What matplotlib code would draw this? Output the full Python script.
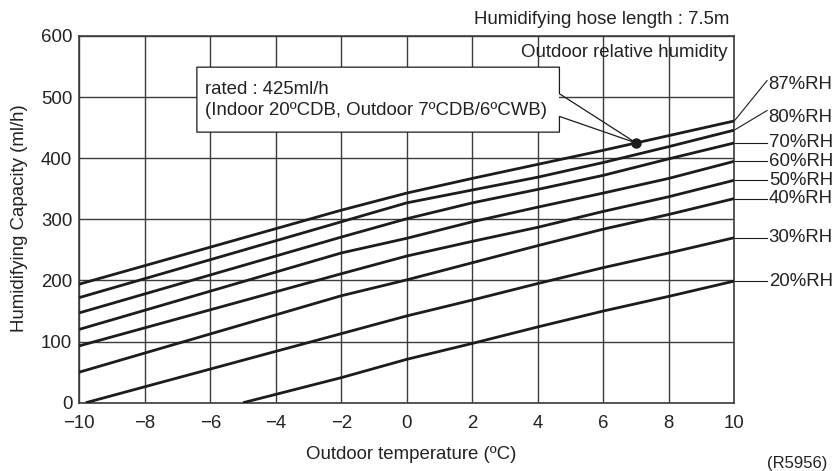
import matplotlib.pyplot as plt

plt.rcParams['font.family'] = ['Liberation Sans', 'DejaVu Sans']

# outdoor temperature (ºC) at the break points of each curve
temp = [-10, -2, 0, 2, 4, 6, 8, 10]
temp_30 = [-9.8, -2, 0, 2, 4, 6, 8, 10]
temp_20 = [-5, -2, 0, 2, 4, 6, 8, 10]

# humidifying capacity (ml/h) per outdoor relative humidity
cap_87 = [194, 315, 343, 367, 390, 413, 437, 461]
cap_80 = [172, 296, 327, 348, 369, 393, 419, 446]
cap_70 = [147, 271, 301, 327, 349, 372, 399, 425]
cap_60 = [120, 245, 269, 296, 320, 343, 367, 395]
cap_50 = [93, 211, 240, 264, 287, 313, 337, 364]
cap_40 = [50, 175, 201, 229, 257, 284, 308, 334]
cap_30 = [0, 113, 142, 168, 195, 221, 245, 270]
cap_20 = [0, 41, 71, 97, 124, 150, 174, 199]

rh_labels = ["87%RH", "80%RH", "70%RH", "60%RH", "50%RH", "40%RH", "30%RH", "20%RH"]

rated_temp = 7
rated_cap = 425

x_ticks = [-10, -8, -6, -4, -2, 0, 2, 4, 6, 8, 10]
y_ticks = [0, 100, 200, 300, 400, 500, 600]

series = [
    (temp, cap_87), (temp, cap_80), (temp, cap_70), (temp, cap_60),
    (temp, cap_50), (temp, cap_40), (temp_30, cap_30), (temp_20, cap_20),
]

fs = 13.4
txt_col = "#222222"

fig = plt.figure(figsize=(8.4, 4.71), dpi=100)
ax = fig.add_axes([0.0944, 0.145, 0.7798, 0.7786])

grid_col = "#3c3c3c"
ink = "#1c1c1c"

for xs, ys in series:
    ax.plot(xs, ys, color=ink, lw=2.0, solid_capstyle="butt", zorder=3)

ax.set_xlim(-10, 10)
ax.set_ylim(0, 600)
ax.set_xticks(x_ticks)
ax.set_yticks(y_ticks)
ax.grid(True, color=grid_col, lw=1.0)
ax.tick_params(length=0, labelsize=fs, colors=txt_col)
ax.tick_params(axis="x", pad=9)
ax.tick_params(axis="y", pad=5)
for s in ax.spines.values():
    s.set_color(grid_col)
    s.set_linewidth(1.2)

# right-hand labels with leader lines
label_y = [521, 467] + [ys[-1] for _, ys in series[2:]]
leader_y = [527, 478] + [ys[-1] for _, ys in series[2:]]
for (xs, ys), lab, ly, ty in zip(series, rh_labels, leader_y, label_y):
    ax.plot([xs[-1], 11.0], [ys[-1], ly], color=ink, lw=0.8, clip_on=False)
    ax.text(11.05, ty, lab, fontsize=fs, color=txt_col, ha="left", va="center",
            clip_on=False)

# callout for the rated point
L, R, T, B = -6.41, 4.66, 549, 442.7
n_top, n_bot = 505.5, 468.4
ax.fill([L, R, R, L], [B, B, T, T], color="white", zorder=4, lw=0)
ax.plot([rated_temp, R, R, L, L, R, R, rated_temp],
        [rated_cap, n_top, T, T, B, B, n_bot, rated_cap],
        color=ink, lw=0.9, zorder=5)
ax.plot([rated_temp], [rated_cap], "o", color=ink, ms=6.5, zorder=6)
ax.text(-6.17, 512, "rated : 425ml/h", fontsize=fs, color=txt_col,
        va="center", zorder=6)
ax.text(-6.17, 478, "(Indoor 20ºCDB, Outdoor 7ºCDB/6ºCWB)", fontsize=fs,
        color=txt_col, va="center", zorder=6)

ax.text(0.99, 0.955, "Outdoor relative humidity", transform=ax.transAxes,
        fontsize=fs, color=txt_col, ha="right", va="center")

fig.text(0.868, 0.959, "Humidifying hose length : 7.5m", fontsize=fs,
         color=txt_col, ha="right", va="center")
fig.text(0.0238, 0.537, "Humidifying Capacity (ml/h)", fontsize=fs,
         color=txt_col, rotation=90, ha="center", va="center")
fig.text(0.489, 0.034, "Outdoor temperature (ºC)", fontsize=fs,
         color=txt_col, ha="center", va="center")
fig.text(0.985, 0.015, "(R5956)", fontsize=12, color=txt_col,
         ha="right", va="center")

fig.savefig("out.png", dpi=100)
